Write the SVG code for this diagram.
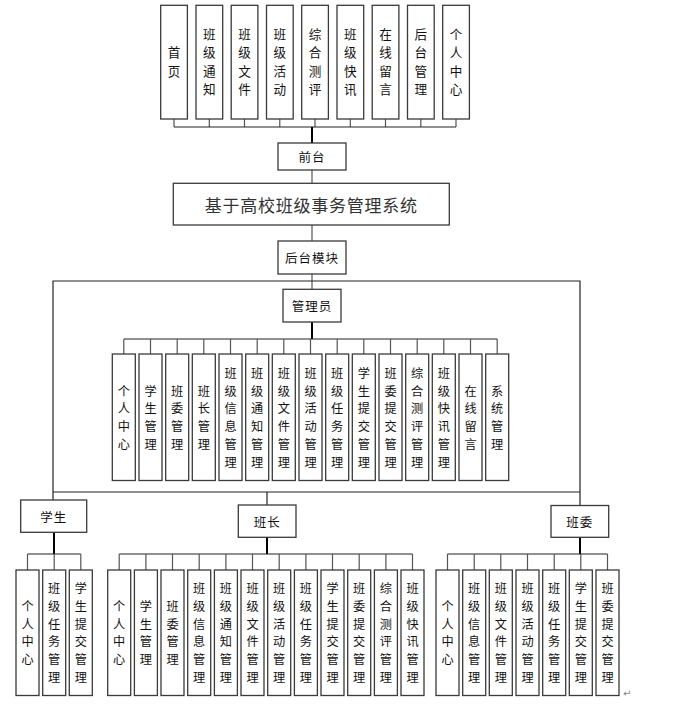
<svg xmlns="http://www.w3.org/2000/svg" width="682" height="704" viewBox="0 0 682 704">
  <style>
    .box { fill: #ffffff; stroke: #3a3a3a; stroke-width: 1.3; }
    .ln { fill: none; stroke: #222222; stroke-width: 1.2; }
    .stub { fill: none; stroke: #555555; stroke-width: 1.2; }
    .trunk { fill: none; stroke: #000000; stroke-width: 2; }
    text { font-family: "Noto Sans CJK SC", "Noto Sans", sans-serif; fill: #111111; }
    .lbl { font-size: 12.5px; letter-spacing: 1px; text-anchor: middle; dominant-baseline: central; }
    .v { font-size: 12.2px; text-anchor: middle; dominant-baseline: central; }
    .vt { font-size: 12.6px; text-anchor: middle; dominant-baseline: central; }
    .title { font-size: 17px; letter-spacing: 0.75px; text-anchor: middle; dominant-baseline: central; fill: #333333; }
  </style>

  <!-- connectors -->
  <g id="connectors">
    <!-- front-end bus -->
    <path class="stub" d="M174 119V127M209.3 119V127M244.5 119V127M279.8 119V127M315 119V127M350.3 119V127M385.5 119V127M420.8 119V127M456 119V127"/>
    <path class="ln" d="M174 127H456"/>
    <path class="trunk" d="M312 127V143"/>
    <path class="stub" d="M312 170V183M312 225V241"/>
    <path class="stub" d="M312 274V289"/>
    <!-- back-end frame -->
    <path class="ln" d="M53 500V281H580V505M53 492H580M267 492V505"/>
    <!-- admin bus -->
    <path class="trunk" d="M312 322V339"/>
    <path class="ln" d="M123.8 339H497.2"/>
    <path class="stub" d="M123.8 339V354M150.5 339V354M177.2 339V354M203.8 339V354M230.5 339V354M257.2 339V354M283.8 339V354M310.5 339V354M337.2 339V354M363.8 339V354M390.5 339V354M417.2 339V354M443.8 339V354M470.5 339V354M497.2 339V354"/>
    <!-- student bus -->
    <path class="trunk" d="M54 532V554"/>
    <path class="ln" d="M27.5 554H80.8"/>
    <path class="stub" d="M27.5 554V570M54.2 554V570M80.8 554V570"/>
    <!-- monitor bus -->
    <path class="trunk" d="M267 537V554"/>
    <path class="ln" d="M119.2 554H412.5"/>
    <path class="stub" d="M119.2 554V570M145.9 554V570M172.5 554V570M199.2 554V570M225.9 554V570M252.5 554V570M279.2 554V570M305.9 554V570M332.5 554V570M359.2 554V570M385.9 554V570M412.5 554V570"/>
    <!-- committee bus -->
    <path class="trunk" d="M580 537V554"/>
    <path class="ln" d="M447.5 554H607.5"/>
    <path class="stub" d="M447.5 554V570M474.2 554V570M500.8 554V570M527.5 554V570M554.2 554V570M580.8 554V570M607.5 554V570"/>
  </g>

  <!-- front-end pages (one glyph per line, stacked vertically) -->
  <g id="fe-home"><rect class="box" x="160.7" y="5.3" width="26.7" height="113.7"/><text class="vt" x="174" y="51.9">首</text><text class="vt" x="174" y="70.2">页</text></g>
  <g id="fe-notice"><rect class="box" x="196" y="5.3" width="26.7" height="113.7"/><text class="vt" x="209.3" y="33.6">班</text><text class="vt" x="209.3" y="51.9">级</text><text class="vt" x="209.3" y="70.2">通</text><text class="vt" x="209.3" y="88.5">知</text></g>
  <g id="fe-files"><rect class="box" x="231.2" y="5.3" width="26.7" height="113.7"/><text class="vt" x="244.5" y="33.6">班</text><text class="vt" x="244.5" y="51.9">级</text><text class="vt" x="244.5" y="70.2">文</text><text class="vt" x="244.5" y="88.5">件</text></g>
  <g id="fe-activity"><rect class="box" x="266.5" y="5.3" width="26.7" height="113.7"/><text class="vt" x="279.8" y="33.6">班</text><text class="vt" x="279.8" y="51.9">级</text><text class="vt" x="279.8" y="70.2">活</text><text class="vt" x="279.8" y="88.5">动</text></g>
  <g id="fe-eval"><rect class="box" x="301.7" y="5.3" width="26.7" height="113.7"/><text class="vt" x="315" y="33.6">综</text><text class="vt" x="315" y="51.9">合</text><text class="vt" x="315" y="70.2">测</text><text class="vt" x="315" y="88.5">评</text></g>
  <g id="fe-news"><rect class="box" x="337" y="5.3" width="26.7" height="113.7"/><text class="vt" x="350.3" y="33.6">班</text><text class="vt" x="350.3" y="51.9">级</text><text class="vt" x="350.3" y="70.2">快</text><text class="vt" x="350.3" y="88.5">讯</text></g>
  <g id="fe-message"><rect class="box" x="372.2" y="5.3" width="26.7" height="113.7"/><text class="vt" x="385.5" y="33.6">在</text><text class="vt" x="385.5" y="51.9">线</text><text class="vt" x="385.5" y="70.2">留</text><text class="vt" x="385.5" y="88.5">言</text></g>
  <g id="fe-admin"><rect class="box" x="407.5" y="5.3" width="26.7" height="113.7"/><text class="vt" x="420.8" y="33.6">后</text><text class="vt" x="420.8" y="51.9">台</text><text class="vt" x="420.8" y="70.2">管</text><text class="vt" x="420.8" y="88.5">理</text></g>
  <g id="fe-profile"><rect class="box" x="442.7" y="5.3" width="26.7" height="113.7"/><text class="vt" x="456" y="33.6">个</text><text class="vt" x="456" y="51.9">人</text><text class="vt" x="456" y="70.2">中</text><text class="vt" x="456" y="88.5">心</text></g>

  <!-- main levels -->
  <g id="frontend"><rect class="box" x="278" y="143" width="68" height="27"/><text class="lbl" x="312" y="156.5">前台</text></g>
  <g id="system"><rect class="box" x="173.3" y="183.3" width="276" height="41.7"/><text class="title" x="311.3" y="204">基于高校班级事务管理系统</text></g>
  <g id="backend"><rect class="box" x="278" y="241" width="68" height="33"/><text class="lbl" x="312" y="257.5">后台模块</text></g>
  <g id="admin"><rect class="box" x="283" y="289.3" width="58" height="32.7"/><text class="lbl" x="312" y="305.6">管理员</text></g>

  <!-- administrator functions -->
  <g id="ad-1"><rect class="box" x="112.3" y="354" width="23" height="126.5"/><text class="v" x="123.8" y="390.6">个</text><text class="v" x="123.8" y="408.4">人</text><text class="v" x="123.8" y="426.2">中</text><text class="v" x="123.8" y="444">心</text></g>
  <g id="ad-2"><rect class="box" x="139" y="354" width="23" height="126.5"/><text class="v" x="150.5" y="390.6">学</text><text class="v" x="150.5" y="408.4">生</text><text class="v" x="150.5" y="426.2">管</text><text class="v" x="150.5" y="444">理</text></g>
  <g id="ad-3"><rect class="box" x="165.7" y="354" width="23" height="126.5"/><text class="v" x="177.2" y="390.6">班</text><text class="v" x="177.2" y="408.4">委</text><text class="v" x="177.2" y="426.2">管</text><text class="v" x="177.2" y="444">理</text></g>
  <g id="ad-4"><rect class="box" x="192.3" y="354" width="23" height="126.5"/><text class="v" x="203.8" y="390.6">班</text><text class="v" x="203.8" y="408.4">长</text><text class="v" x="203.8" y="426.2">管</text><text class="v" x="203.8" y="444">理</text></g>
  <g id="ad-5"><rect class="box" x="219" y="354" width="23" height="126.5"/><text class="v" x="230.5" y="372.8">班</text><text class="v" x="230.5" y="390.6">级</text><text class="v" x="230.5" y="408.4">信</text><text class="v" x="230.5" y="426.2">息</text><text class="v" x="230.5" y="444">管</text><text class="v" x="230.5" y="461.8">理</text></g>
  <g id="ad-6"><rect class="box" x="245.7" y="354" width="23" height="126.5"/><text class="v" x="257.2" y="372.8">班</text><text class="v" x="257.2" y="390.6">级</text><text class="v" x="257.2" y="408.4">通</text><text class="v" x="257.2" y="426.2">知</text><text class="v" x="257.2" y="444">管</text><text class="v" x="257.2" y="461.8">理</text></g>
  <g id="ad-7"><rect class="box" x="272.3" y="354" width="23" height="126.5"/><text class="v" x="283.8" y="372.8">班</text><text class="v" x="283.8" y="390.6">级</text><text class="v" x="283.8" y="408.4">文</text><text class="v" x="283.8" y="426.2">件</text><text class="v" x="283.8" y="444">管</text><text class="v" x="283.8" y="461.8">理</text></g>
  <g id="ad-8"><rect class="box" x="299" y="354" width="23" height="126.5"/><text class="v" x="310.5" y="372.8">班</text><text class="v" x="310.5" y="390.6">级</text><text class="v" x="310.5" y="408.4">活</text><text class="v" x="310.5" y="426.2">动</text><text class="v" x="310.5" y="444">管</text><text class="v" x="310.5" y="461.8">理</text></g>
  <g id="ad-9"><rect class="box" x="325.7" y="354" width="23" height="126.5"/><text class="v" x="337.2" y="372.8">班</text><text class="v" x="337.2" y="390.6">级</text><text class="v" x="337.2" y="408.4">任</text><text class="v" x="337.2" y="426.2">务</text><text class="v" x="337.2" y="444">管</text><text class="v" x="337.2" y="461.8">理</text></g>
  <g id="ad-10"><rect class="box" x="352.3" y="354" width="23" height="126.5"/><text class="v" x="363.8" y="372.8">学</text><text class="v" x="363.8" y="390.6">生</text><text class="v" x="363.8" y="408.4">提</text><text class="v" x="363.8" y="426.2">交</text><text class="v" x="363.8" y="444">管</text><text class="v" x="363.8" y="461.8">理</text></g>
  <g id="ad-11"><rect class="box" x="379" y="354" width="23" height="126.5"/><text class="v" x="390.5" y="372.8">班</text><text class="v" x="390.5" y="390.6">委</text><text class="v" x="390.5" y="408.4">提</text><text class="v" x="390.5" y="426.2">交</text><text class="v" x="390.5" y="444">管</text><text class="v" x="390.5" y="461.8">理</text></g>
  <g id="ad-12"><rect class="box" x="405.7" y="354" width="23" height="126.5"/><text class="v" x="417.2" y="372.8">综</text><text class="v" x="417.2" y="390.6">合</text><text class="v" x="417.2" y="408.4">测</text><text class="v" x="417.2" y="426.2">评</text><text class="v" x="417.2" y="444">管</text><text class="v" x="417.2" y="461.8">理</text></g>
  <g id="ad-13"><rect class="box" x="432.3" y="354" width="23" height="126.5"/><text class="v" x="443.8" y="372.8">班</text><text class="v" x="443.8" y="390.6">级</text><text class="v" x="443.8" y="408.4">快</text><text class="v" x="443.8" y="426.2">讯</text><text class="v" x="443.8" y="444">管</text><text class="v" x="443.8" y="461.8">理</text></g>
  <g id="ad-14"><rect class="box" x="459" y="354" width="23" height="126.5"/><text class="v" x="470.5" y="390.6">在</text><text class="v" x="470.5" y="408.4">线</text><text class="v" x="470.5" y="426.2">留</text><text class="v" x="470.5" y="444">言</text></g>
  <g id="ad-15"><rect class="box" x="485.7" y="354" width="23" height="126.5"/><text class="v" x="497.2" y="390.6">系</text><text class="v" x="497.2" y="408.4">统</text><text class="v" x="497.2" y="426.2">管</text><text class="v" x="497.2" y="444">理</text></g>

  <!-- roles -->
  <g id="student"><rect class="box" x="20.7" y="500" width="66" height="32.3"/><text class="lbl" x="53.7" y="516.2">学生</text></g>
  <g id="monitor"><rect class="box" x="238.3" y="505" width="57.7" height="32.3"/><text class="lbl" x="267.2" y="521.2">班长</text></g>
  <g id="committee"><rect class="box" x="551" y="505.5" width="57.7" height="31.8"/><text class="lbl" x="579.8" y="521.4">班委</text></g>

  <!-- student functions -->
  <g id="st-1"><rect class="box" x="16" y="570" width="23" height="125.5"/><text class="v" x="27.5" y="606">个</text><text class="v" x="27.5" y="623.7">人</text><text class="v" x="27.5" y="641.4">中</text><text class="v" x="27.5" y="659.1">心</text></g>
  <g id="st-2"><rect class="box" x="42.7" y="570" width="23" height="125.5"/><text class="v" x="54.2" y="588.3">班</text><text class="v" x="54.2" y="606">级</text><text class="v" x="54.2" y="623.7">任</text><text class="v" x="54.2" y="641.4">务</text><text class="v" x="54.2" y="659.1">管</text><text class="v" x="54.2" y="676.8">理</text></g>
  <g id="st-3"><rect class="box" x="69.3" y="570" width="23" height="125.5"/><text class="v" x="80.8" y="588.3">学</text><text class="v" x="80.8" y="606">生</text><text class="v" x="80.8" y="623.7">提</text><text class="v" x="80.8" y="641.4">交</text><text class="v" x="80.8" y="659.1">管</text><text class="v" x="80.8" y="676.8">理</text></g>

  <!-- monitor functions -->
  <g id="mo-1"><rect class="box" x="107.7" y="570" width="23" height="125.5"/><text class="v" x="119.2" y="606">个</text><text class="v" x="119.2" y="623.7">人</text><text class="v" x="119.2" y="641.4">中</text><text class="v" x="119.2" y="659.1">心</text></g>
  <g id="mo-2"><rect class="box" x="134.4" y="570" width="23" height="125.5"/><text class="v" x="145.9" y="606">学</text><text class="v" x="145.9" y="623.7">生</text><text class="v" x="145.9" y="641.4">管</text><text class="v" x="145.9" y="659.1">理</text></g>
  <g id="mo-3"><rect class="box" x="161" y="570" width="23" height="125.5"/><text class="v" x="172.5" y="606">班</text><text class="v" x="172.5" y="623.7">委</text><text class="v" x="172.5" y="641.4">管</text><text class="v" x="172.5" y="659.1">理</text></g>
  <g id="mo-4"><rect class="box" x="187.7" y="570" width="23" height="125.5"/><text class="v" x="199.2" y="588.3">班</text><text class="v" x="199.2" y="606">级</text><text class="v" x="199.2" y="623.7">信</text><text class="v" x="199.2" y="641.4">息</text><text class="v" x="199.2" y="659.1">管</text><text class="v" x="199.2" y="676.8">理</text></g>
  <g id="mo-5"><rect class="box" x="214.4" y="570" width="23" height="125.5"/><text class="v" x="225.9" y="588.3">班</text><text class="v" x="225.9" y="606">级</text><text class="v" x="225.9" y="623.7">通</text><text class="v" x="225.9" y="641.4">知</text><text class="v" x="225.9" y="659.1">管</text><text class="v" x="225.9" y="676.8">理</text></g>
  <g id="mo-6"><rect class="box" x="241" y="570" width="23" height="125.5"/><text class="v" x="252.5" y="588.3">班</text><text class="v" x="252.5" y="606">级</text><text class="v" x="252.5" y="623.7">文</text><text class="v" x="252.5" y="641.4">件</text><text class="v" x="252.5" y="659.1">管</text><text class="v" x="252.5" y="676.8">理</text></g>
  <g id="mo-7"><rect class="box" x="267.7" y="570" width="23" height="125.5"/><text class="v" x="279.2" y="588.3">班</text><text class="v" x="279.2" y="606">级</text><text class="v" x="279.2" y="623.7">活</text><text class="v" x="279.2" y="641.4">动</text><text class="v" x="279.2" y="659.1">管</text><text class="v" x="279.2" y="676.8">理</text></g>
  <g id="mo-8"><rect class="box" x="294.4" y="570" width="23" height="125.5"/><text class="v" x="305.9" y="588.3">班</text><text class="v" x="305.9" y="606">级</text><text class="v" x="305.9" y="623.7">任</text><text class="v" x="305.9" y="641.4">务</text><text class="v" x="305.9" y="659.1">管</text><text class="v" x="305.9" y="676.8">理</text></g>
  <g id="mo-9"><rect class="box" x="321" y="570" width="23" height="125.5"/><text class="v" x="332.5" y="588.3">学</text><text class="v" x="332.5" y="606">生</text><text class="v" x="332.5" y="623.7">提</text><text class="v" x="332.5" y="641.4">交</text><text class="v" x="332.5" y="659.1">管</text><text class="v" x="332.5" y="676.8">理</text></g>
  <g id="mo-10"><rect class="box" x="347.7" y="570" width="23" height="125.5"/><text class="v" x="359.2" y="588.3">班</text><text class="v" x="359.2" y="606">委</text><text class="v" x="359.2" y="623.7">提</text><text class="v" x="359.2" y="641.4">交</text><text class="v" x="359.2" y="659.1">管</text><text class="v" x="359.2" y="676.8">理</text></g>
  <g id="mo-11"><rect class="box" x="374.4" y="570" width="23" height="125.5"/><text class="v" x="385.9" y="588.3">综</text><text class="v" x="385.9" y="606">合</text><text class="v" x="385.9" y="623.7">测</text><text class="v" x="385.9" y="641.4">评</text><text class="v" x="385.9" y="659.1">管</text><text class="v" x="385.9" y="676.8">理</text></g>
  <g id="mo-12"><rect class="box" x="401" y="570" width="23" height="125.5"/><text class="v" x="412.5" y="588.3">班</text><text class="v" x="412.5" y="606">级</text><text class="v" x="412.5" y="623.7">快</text><text class="v" x="412.5" y="641.4">讯</text><text class="v" x="412.5" y="659.1">管</text><text class="v" x="412.5" y="676.8">理</text></g>

  <!-- committee functions -->
  <g id="co-1"><rect class="box" x="436" y="570" width="23" height="125.5"/><text class="v" x="447.5" y="606">个</text><text class="v" x="447.5" y="623.7">人</text><text class="v" x="447.5" y="641.4">中</text><text class="v" x="447.5" y="659.1">心</text></g>
  <g id="co-2"><rect class="box" x="462.7" y="570" width="23" height="125.5"/><text class="v" x="474.2" y="588.3">班</text><text class="v" x="474.2" y="606">级</text><text class="v" x="474.2" y="623.7">信</text><text class="v" x="474.2" y="641.4">息</text><text class="v" x="474.2" y="659.1">管</text><text class="v" x="474.2" y="676.8">理</text></g>
  <g id="co-3"><rect class="box" x="489.3" y="570" width="23" height="125.5"/><text class="v" x="500.8" y="588.3">班</text><text class="v" x="500.8" y="606">级</text><text class="v" x="500.8" y="623.7">文</text><text class="v" x="500.8" y="641.4">件</text><text class="v" x="500.8" y="659.1">管</text><text class="v" x="500.8" y="676.8">理</text></g>
  <g id="co-4"><rect class="box" x="516" y="570" width="23" height="125.5"/><text class="v" x="527.5" y="588.3">班</text><text class="v" x="527.5" y="606">级</text><text class="v" x="527.5" y="623.7">活</text><text class="v" x="527.5" y="641.4">动</text><text class="v" x="527.5" y="659.1">管</text><text class="v" x="527.5" y="676.8">理</text></g>
  <g id="co-5"><rect class="box" x="542.7" y="570" width="23" height="125.5"/><text class="v" x="554.2" y="588.3">班</text><text class="v" x="554.2" y="606">级</text><text class="v" x="554.2" y="623.7">任</text><text class="v" x="554.2" y="641.4">务</text><text class="v" x="554.2" y="659.1">管</text><text class="v" x="554.2" y="676.8">理</text></g>
  <g id="co-6"><rect class="box" x="569.3" y="570" width="23" height="125.5"/><text class="v" x="580.8" y="588.3">学</text><text class="v" x="580.8" y="606">生</text><text class="v" x="580.8" y="623.7">提</text><text class="v" x="580.8" y="641.4">交</text><text class="v" x="580.8" y="659.1">管</text><text class="v" x="580.8" y="676.8">理</text></g>
  <g id="co-7"><rect class="box" x="596" y="570" width="23" height="125.5"/><text class="v" x="607.5" y="588.3">班</text><text class="v" x="607.5" y="606">委</text><text class="v" x="607.5" y="623.7">提</text><text class="v" x="607.5" y="641.4">交</text><text class="v" x="607.5" y="659.1">管</text><text class="v" x="607.5" y="676.8">理</text></g>

  <!-- paragraph mark -->
  <text x="623" y="697" style="font-size:10px;fill:#888888;font-family:'DejaVu Sans',sans-serif">↵</text>
</svg>
